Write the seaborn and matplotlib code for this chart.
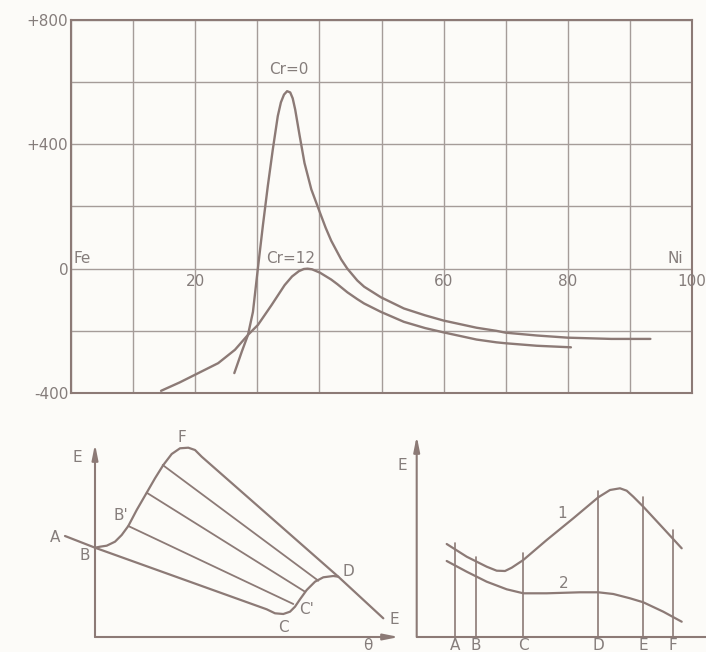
import matplotlib
matplotlib.use("Agg")
import matplotlib.pyplot as plt
import seaborn as sns
import pandas as pd

# ---------------- data: main chart ----------------
cr0_x = [26.3, 27.5, 28.5, 29.3, 30.1, 30.9, 31.7, 32.5, 33.3, 33.8, 34.3, 34.8, 35.3, 35.7, 36.1, 36.8,
         37.6, 38.7, 40.0, 41.0, 41.9, 43.5, 44.5, 46.1, 47.2, 49.9, 53.6, 57.0, 60.0, 65.3, 68.5,
         70.0, 75.0, 80.0, 87.0, 93.3]
cr0_y = [-336, -267, -213, -139, 2, 139, 267, 384, 491, 535, 560, 571, 567, 548, 512, 430,
         340, 255, 185, 132, 90, 30, 0, -38, -58, -92, -128, -150, -167, -190, -200,
         -206, -215, -222, -226, -226]
cr12_x = [14.5, 17.5, 20.5, 23.7, 26.4, 28.5, 30.1, 32.3, 34.4, 35.6, 36.7, 37.5, 38.1, 38.8, 40.1, 41.9, 42.9,
          44.5, 46.1, 47.2, 49.9, 53.6, 57.0, 60.0, 65.3, 68.5, 70.0, 75.0, 80.5]
cr12_y = [-393, -366, -336, -304, -261, -213, -181, -117, -53, -25, -8, -1, 0, -2, -13, -35, -50,
          -76, -98, -112, -139, -171, -191, -205, -228, -237, -240, -248, -253]
y_ticks = [-400, -200, 0, 200, 400, 600, 800]
y_ticklabels = ["-400", "", "0", "", "+400", "", "+800"]
x_grid = list(range(0, 101, 10))
x_labels = [20, 60, 80, 100]

# ---------------- data: lower-left schematic (figure pixel coords) ----------------
ll_lower_x = [65, 95, 266.7, 275, 283.3, 290, 295, 300, 306.7, 315, 323.3, 333.3, 338.3, 383.3]
ll_lower_y = [536, 547.7, 609.3, 613.3, 614, 611.7, 606.7, 599.3, 590, 581.7, 577.3, 576, 576.7, 618.3]
ll_upper_x = [95, 100, 106.7, 115, 121.7, 128.3, 136.7, 146.7, 155, 163.3, 171.7, 180, 188.3, 195, 201.7, 338.3]
ll_upper_y = [547.7, 546.7, 545.7, 541.7, 535, 526, 510, 492.7, 478.3, 465, 454, 448.3, 447.7, 450, 456.7, 576.7]
ll_hatch_x0 = [128.3, 146.7, 162.7]
ll_hatch_y0 = [526, 492.7, 465]
ll_hatch_x1 = [293.3, 305, 318.3]
ll_hatch_y1 = [604, 591.7, 580.7]
ll_labels = ["E", "θ", "A", "B", "B'", "F", "D", "C'", "C", "E"]
ll_label_x = [77, 368, 55, 85, 121, 182, 348, 307, 283, 394]
ll_label_y = [458, 645, 537, 556, 515, 437, 571, 610, 627, 620]

# ---------------- data: lower-right schematic ----------------
rr_c1_x = [446.7, 466.7, 486.7, 496.7, 505, 511.7, 523.3, 546.7, 573.3, 598.3, 610, 620, 626.7,
           633.3, 643.3, 663.3, 681.7]
rr_c1_y = [544, 556.7, 566.7, 570.7, 571, 567.7, 560, 540, 518.3, 497.3, 490, 488.3, 490.7,
           496.7, 506.7, 528.3, 548.3]
rr_c2_x = [446.7, 466.7, 486.7, 506.7, 523.3, 546.7, 580, 598.3, 613.3, 630, 643.3, 663.3, 681.7]
rr_c2_y = [561, 571.7, 581.7, 589.3, 593.3, 593.3, 592.3, 592.3, 594, 598.3, 602.3, 611.7, 621.7]
rr_vlabels = ["A", "B", "C", "D", "E", "F"]
rr_vx = [455, 476, 523.3, 598.3, 643.3, 672.7]
rr_vtop = [542.7, 556.7, 552.7, 490.7, 497.3, 530]

BG = "#fcfbf8"
LC = "#8c7a76"
GC = "#a59c99"
TC = "#857d7b"

sns.set_style("white")
plt.rcParams["font.family"] = ["DejaVu Sans"]

fig = plt.figure(figsize=(7.06, 6.52), dpi=100, facecolor=BG)

# ---------------- main chart ----------------
ax = fig.add_axes([71 / 706, 1 - 393 / 652, 621 / 706, 373 / 652])
ax.set_facecolor(BG)
df0 = pd.DataFrame({"x": cr0_x, "y": cr0_y})
df12 = pd.DataFrame({"x": cr12_x, "y": cr12_y})
sns.lineplot(data=df0, x="x", y="y", ax=ax, sort=False, estimator=None, color=LC, lw=1.7)
sns.lineplot(data=df12, x="x", y="y", ax=ax, sort=False, estimator=None, color=LC, lw=1.7)
ax.set_xlim(0, 99.3)
ax.set_ylim(-400, 800)
ax.set_xticks(x_grid)
ax.set_xticklabels([])
ax.set_yticks(y_ticks)
ax.set_yticklabels(y_ticklabels)
ax.tick_params(length=0, pad=2, labelsize=11, labelcolor=TC)
ax.grid(True, color=GC, lw=1.0)
ax.set_xlabel("")
ax.set_ylabel("")
for s in ax.spines.values():
    s.set_color(LC)
    s.set_linewidth(1.5)
for xv in x_labels:
    ax.text(xv, -18, str(xv), ha="center", va="top", fontsize=11, color=TC, clip_on=False)
ax.text(0.4, 8, "Fe", ha="left", va="bottom", fontsize=11, color=TC)
ax.text(98.6, 8, "Ni", ha="right", va="bottom", fontsize=11, color=TC)
ax.text(35.1, 640, "Cr=0", ha="center", va="center", fontsize=11, color=TC)
ax.text(35.4, 8, "Cr=12", ha="center", va="bottom", fontsize=11, color=TC)

# ---------------- overlay for schematics ----------------
ov = fig.add_axes([0, 0, 1, 1])
ov.set_xlim(0, 706)
ov.set_ylim(652, 0)
ov.axis("off")
ov.patch.set_alpha(0)

arrow = dict(arrowstyle="-|>,head_width=0.18,head_length=0.9", color=LC, lw=1.5, shrinkA=0, shrinkB=0)
# left axes
ov.annotate("", xy=(95, 444), xytext=(95, 637), arrowprops=arrow)
ov.annotate("", xy=(399, 637), xytext=(95, 637), arrowprops=arrow)
sns.lineplot(x=ll_lower_x, y=ll_lower_y, ax=ov, sort=False, estimator=None, color=LC, lw=1.6)
sns.lineplot(x=ll_upper_x, y=ll_upper_y, ax=ov, sort=False, estimator=None, color=LC, lw=1.6)
for x0, y0, x1, y1 in zip(ll_hatch_x0, ll_hatch_y0, ll_hatch_x1, ll_hatch_y1):
    sns.lineplot(x=[x0, x1], y=[y0, y1], ax=ov, sort=False, estimator=None, color=LC, lw=1.3)
for t, x, y in zip(ll_labels, ll_label_x, ll_label_y):
    ov.text(x, y, t, ha="center", va="center", fontsize=11, color=TC)

# right axes
ov.annotate("", xy=(416.7, 436), xytext=(416.7, 637), arrowprops=arrow)
ov.plot([416.7, 706], [637, 637], color=LC, lw=1.5)
sns.lineplot(x=rr_c1_x, y=rr_c1_y, ax=ov, sort=False, estimator=None, color=LC, lw=1.6)
sns.lineplot(x=rr_c2_x, y=rr_c2_y, ax=ov, sort=False, estimator=None, color=LC, lw=1.6)
for t, x, top in zip(rr_vlabels, rr_vx, rr_vtop):
    ov.plot([x, x], [top, 637], color=LC, lw=1.2)
    ov.text(x, 645, t, ha="center", va="center", fontsize=11, color=TC)
ov.text(402, 465, "E", ha="center", va="center", fontsize=11, color=TC)
ov.text(561.7, 513, "1", ha="center", va="center", fontsize=11, color=TC)
ov.text(563.3, 584, "2", ha="center", va="center", fontsize=11, color=TC)

fig.savefig("out.png", dpi=100, facecolor=BG)
